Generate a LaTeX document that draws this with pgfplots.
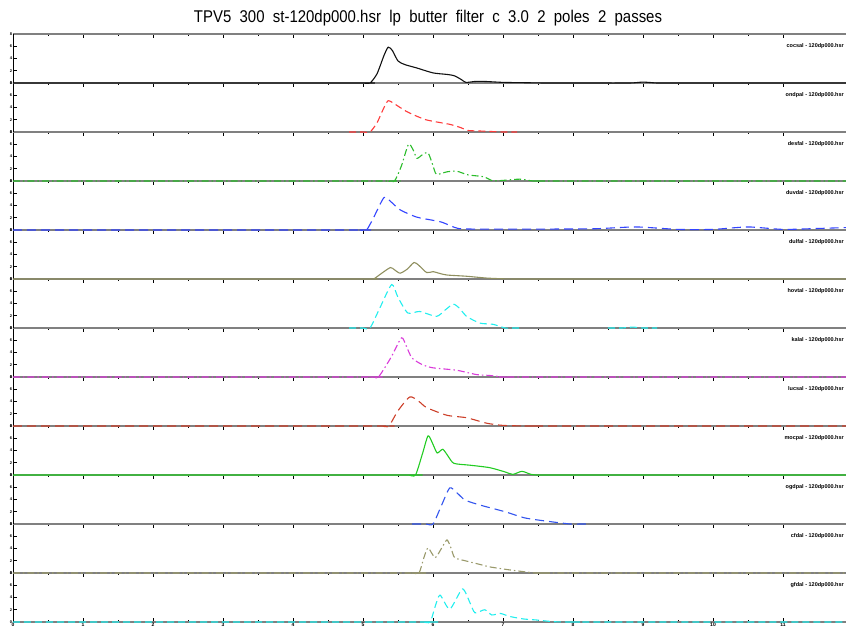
\documentclass[border=0pt]{standalone}
\usepackage{fontspec}
\setmainfont{Liberation Sans}
\newfontfamily\titlefont[FakeStretch=0.88, WordSpace=2.0]{Liberation Sans}
\usepackage{pgfplots}
\pgfplotsset{compat=1.18}

\definecolor{cBlack}{HTML}{111111}
\definecolor{cRed}{HTML}{FF3B3B}
\definecolor{cGreen}{HTML}{33DD33}
\definecolor{cBlue}{HTML}{3344FF}
\definecolor{cOlive}{HTML}{8F8F5F}
\definecolor{cCyan}{HTML}{22EEEE}
\definecolor{cMag}{HTML}{FF44FF}
\definecolor{cOrange}{HTML}{F04A30}
\definecolor{cGreen2}{HTML}{22CC22}
\definecolor{cBlue2}{HTML}{3355EE}
\definecolor{cOlive2}{HTML}{99996A}

\tikzset{
  dashA/.style={dash pattern=on 7pt off 4pt},
  dashB/.style={dash pattern=on 9pt off 5pt},
  dashdot/.style={dash pattern=on 7pt off 3pt on 1.5pt off 3pt},
  lab/.style={font=\fontsize{5.5}{6}\selectfont\bfseries, anchor=north east, inner sep=0pt},
}

\pgfplotsset{
  panel/.style={
    at={(13pt,{-83pt-49pt*#1})}, anchor=south west,
    width=833pt, height=49pt, scale only axis,
    xmin=0, xmax=11.9, ymin=0, ymax=8,
    clip=false,
    separate axis lines,
    axis x line*=box, axis y line*=left,
    x axis line style={black!50, line width=1.6pt},
    y axis line style={black, line width=0.6pt},
    xtick={0,...,11}, minor x tick num=1,
    xtick pos=upper, tick align=inside,
    major tick length=4pt, minor tick length=2pt,
    every tick/.style={black, line width=0.6pt},
    xticklabels={},
    ytick={0,2,4,6,8},
    yticklabel style={font=\fontsize{4}{4}\selectfont\bfseries, inner sep=0.6pt},
    /pgf/number format/assume math mode=true,
    every axis plot/.append style={line width=1.1pt, smooth, tension=0.4},
  },
}

\begin{document}
\begin{tikzpicture}

\node[font=\titlefont\fontsize{17}{17}\selectfont] at (428pt,-18pt)
  {TPV5 300 st-120dp000.hsr lp butter filter c 3.0 2 poles 2 passes};

% panels are drawn from the bottom up, so each trace lies over the line below it
% 12
\begin{axis}[panel=11, xtick pos=both, xticklabels={0,1,2,3,4,5,6,7,8,9,10,11},
  xticklabel style={font=\fontsize{5}{5}\selectfont\bfseries, inner sep=1pt}]
\addplot[cCyan, dashA] coordinates {(0,0) (5.76,0) (5.86,0) (5.96,0) (6.03,2.5) (6.1,4.4) (6.24,2.1) (6.42,5.4) (6.53,3.1) (6.6,1.5) (6.74,2.0) (6.84,1.15) (6.96,1.4) (7.1,0.9) (7.29,0.5) (7.48,0.33) (7.72,0.05) (8.0,0) (8.1,0) (8.2,0) (11.9,0)};
\node[lab] at (rel axis cs:1,1) [xshift=-2pt, yshift=-9pt] {gfdal - 120dp000.hsr};
\end{axis}
% 11
\begin{axis}[panel=10]
\addplot[cOlive2, dashdot] coordinates {(0,0) (5.6,0) (5.7,0) (5.8,0) (5.87,2.5) (5.93,4.1) (6.03,2.5) (6.12,4.0) (6.2,5.4) (6.26,4.0) (6.31,2.5) (6.46,2.0) (6.67,1.4) (6.81,1.0) (7.1,0.5) (7.46,0) (7.6,0) (7.7,0) (11.9,0)};
\node[lab] at (rel axis cs:1,1) [xshift=-2pt, yshift=-9pt] {cfdal - 120dp000.hsr};
\end{axis}
% 10
\begin{axis}[panel=9]
\addplot[cBlue2, dashB] coordinates {(5.7,0) (5.8,0) (5.9,0) (6.0,0) (6.12,3.0) (6.24,5.9) (6.35,5.0) (6.46,3.9) (6.67,3.1) (7.03,2.0) (7.31,1.0) (7.6,0.5) (7.96,0) (8.1,0) (8.2,0)};
\node[lab] at (rel axis cs:1,1) [xshift=-2pt, yshift=-9pt] {ogdpal - 120dp000.hsr};
\end{axis}
% 9
\begin{axis}[panel=8]
\addplot[cGreen2] coordinates {(0,0) (5.55,0) (5.65,0) (5.75,0) (5.85,3.5) (5.93,6.4) (6.0,5.0) (6.06,3.6) (6.14,4.2) (6.22,3.0) (6.3,1.9) (6.53,1.6) (6.81,1.2) (7.03,0.5) (7.14,0.1) (7.27,0.6) (7.4,0.1) (7.5,0) (7.6,0) (7.7,0) (11.9,0)};
\node[lab] at (rel axis cs:1,1) [xshift=-2pt, yshift=-9pt] {mocpal - 120dp000.hsr};
\end{axis}
% 8
\begin{axis}[panel=7]
\addplot[cOrange!85!black, dashB] coordinates {(0,0) (5.17,0) (5.27,0) (5.37,0) (5.5,2.5) (5.67,4.75) (5.8,4.0) (5.91,3.0) (6.2,1.75) (6.48,1.35) (6.77,0.45) (7.0,0.1) (7.34,0) (7.45,0) (7.55,0) (11.9,0)};
\node[lab] at (rel axis cs:1,1) [xshift=-2pt, yshift=-9pt] {lucsal - 120dp000.hsr};
\end{axis}
% 7
\begin{axis}[panel=6]
\addplot[cMag!85!black, dashdot] coordinates {(0,0) (5.02,0) (5.12,0) (5.22,0) (5.4,3.2) (5.55,6.4) (5.62,5.0) (5.7,3.1) (5.85,2.0) (6.0,1.5) (6.34,1.1) (6.62,0.4) (6.81,0.25) (7.0,0) (7.1,0) (7.2,0) (11.9,0)};
\node[lab] at (rel axis cs:1,1) [xshift=-2pt, yshift=-9pt] {kalal - 120dp000.hsr};
\end{axis}
% 6
\begin{axis}[panel=5]
\addplot[cCyan, dashA] coordinates {(4.8,0) (4.9,0) (5.0,0) (5.1,0) (5.25,3.5) (5.41,7.1) (5.5,5.0) (5.64,2.45) (5.81,2.7) (6.05,1.9) (6.18,3.0) (6.29,3.9) (6.38,3.2) (6.48,1.9) (6.67,0.8) (6.86,0.6) (7.03,0) (7.15,0) (7.25,0)};
\addplot[cCyan, dashA] coordinates {(8.5,0) (8.6,0) (8.7,0) (8.85,0.15) (9.0,0) (9.1,0) (9.2,0)};
\node[lab] at (rel axis cs:1,1) [xshift=-2pt, yshift=-9pt] {hovtal - 120dp000.hsr};
\end{axis}
% 5
\begin{axis}[panel=4]
\addplot[cOlive] coordinates {(0,0) (4.95,0) (5.05,0) (5.15,0) (5.25,0.8) (5.39,1.87) (5.45,1.5) (5.53,0.95) (5.63,1.6) (5.73,2.7) (5.8,2.2) (5.91,1.05) (6.0,1.2) (6.1,0.9) (6.2,0.65) (6.48,0.45) (6.77,0.15) (7.05,0.02) (7.3,0) (7.4,0) (7.5,0) (11.9,0)};
\node[lab] at (rel axis cs:1,1) [xshift=-2pt, yshift=-9pt] {dulfal - 120dp000.hsr};
\end{axis}
% 4
\begin{axis}[panel=3]
\addplot[cBlue, dashB] coordinates {(0,0) (4.85,0) (4.95,0) (5.05,0) (5.15,2) (5.3,5.3) (5.4,4.6) (5.53,3.3) (5.77,2.1) (6.1,1.36) (6.25,0.7) (6.36,0.25) (6.6,0.15) (7.5,0.15) (8.3,0.2) (8.9,0.5) (9.5,0.1) (10.0,0.1) (10.5,0.5) (11.0,0.1) (11.5,0.25) (11.9,0.4)};
\node[lab] at (rel axis cs:1,1) [xshift=-2pt, yshift=-9pt] {duvdal - 120dp000.hsr};
\end{axis}
% 3
\begin{axis}[panel=2]
\addplot[cGreen!85!black, dashdot] coordinates {(0,0) (5.25,0) (5.35,0) (5.45,0) (5.55,2.5) (5.65,6.0) (5.72,5.0) (5.77,3.7) (5.85,4.3) (5.93,4.6) (6.0,2.5) (6.05,1.1) (6.2,1.5) (6.34,1.6) (6.5,1.0) (6.72,0.7) (6.85,0.05) (7.0,0.1) (7.24,0.3) (7.43,0) (7.55,0) (7.65,0) (11.9,0)};
\node[lab] at (rel axis cs:1,1) [xshift=-2pt, yshift=-9pt] {desfal - 120dp000.hsr};
\end{axis}
% 2
\begin{axis}[panel=1]
\addplot[cRed, dashA] coordinates {(4.8,0) (4.9,0) (5.0,0) (5.1,0) (5.2,1.5) (5.3,4.0) (5.36,5.1) (5.45,4.6) (5.63,3.3) (5.9,2.0) (6.24,1.25) (6.4,0.7) (6.5,0.25) (6.7,0.15) (7.0,0) (7.1,0) (7.2,0)};
\node[lab] at (rel axis cs:1,1) [xshift=-2pt, yshift=-9pt] {ondpal - 120dp000.hsr};
\end{axis}
% 1
\begin{axis}[panel=0]
\addplot[cBlack] coordinates {(0,0) (4.9,0) (5.0,0) (5.1,0) (5.2,1.5) (5.3,4.5) (5.36,5.85) (5.42,5.3) (5.5,3.6) (5.6,3.0) (5.77,2.45) (6.0,1.65) (6.2,1.4) (6.3,1.2) (6.4,0.6) (6.47,0.1) (6.6,0.25) (6.75,0.25) (7.0,0.1) (7.3,0.05) (7.6,0) (7.8,0) (8.0,0) (8.8,0) (9.0,0.15) (9.2,0) (9.4,0) (11.9,0)};
\node[lab] at (rel axis cs:1,1) [xshift=-2pt, yshift=-9pt] {cocsal - 120dp000.hsr};
\end{axis}

\pgfresetboundingbox
\path (0pt,0pt) rectangle (846pt,-630pt);
\end{tikzpicture}
\end{document}
